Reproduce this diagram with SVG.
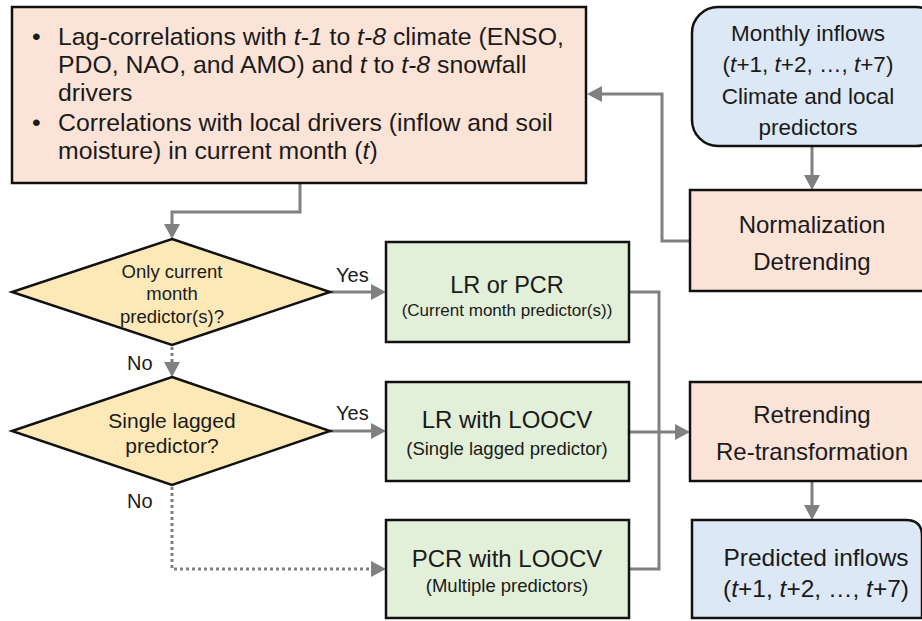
<svg xmlns="http://www.w3.org/2000/svg" width="922" height="621" viewBox="0 0 922 621">
<style>
text{font-family:"Liberation Sans",Arial,Helvetica,sans-serif;fill:#1a1a1a}
.box{stroke:#111;stroke-width:2.5}
.peach{fill:#fbe4d7}
.blue{fill:#dce8f5}
.green{fill:#e2efd9}
.yellow{fill:#fde9b8}
.c{fill:none;stroke:#808080;stroke-width:3}
.d{fill:none;stroke:#808080;stroke-width:3;stroke-dasharray:3 3}
.ah{fill:#808080}
.t24{font-size:24px;text-anchor:middle}
.t22{font-size:22.5px;text-anchor:middle}
.s18{font-size:18.5px;text-anchor:middle}
.lb{font-size:20px}
.tb{font-size:24.8px}
</style>
<g id="connectors">
  <path class="c" d="M690,241 H662 V94 H600"/>
  <polygon class="ah" points="587,94 602,86 602,102"/>
  <path class="c" d="M812,146 V176"/>
  <polygon class="ah" points="812,190 804,175 820,175"/>
  <path class="c" d="M300,183 V212 H172 V226"/>
  <polygon class="ah" points="172,239 164,224 180,224"/>
  <path class="c" d="M330,292 H372"/>
  <polygon class="ah" points="386,292 371,284 371,300"/>
  <path class="d" d="M172,347 V364"/>
  <polygon class="ah" points="172,377 164,362 180,362"/>
  <path class="c" d="M330,431 H372"/>
  <polygon class="ah" points="386,431 371,423 371,439"/>
  <path class="d" d="M172,487 V569 H372"/>
  <polygon class="ah" points="386,569 371,561 371,577"/>
  <path class="c" d="M629,292 H659 V569 H629"/>
  <path class="c" d="M629,432 H676"/>
  <polygon class="ah" points="690,432 675,424 675,440"/>
  <path class="c" d="M812,481 V506"/>
  <polygon class="ah" points="812,520 804,505 820,505"/>
</g>
<g id="drivers">
  <rect class="box peach" x="12" y="7" width="574" height="176"/>
  <text class="tb" x="32" y="45">•</text>
  <text class="tb" x="58" y="45">Lag-correlations with <tspan font-style="italic">t-1</tspan> to <tspan font-style="italic">t-8</tspan> climate (ENSO,</text>
  <text class="tb" x="58" y="73">PDO, NAO, and AMO) and <tspan font-style="italic">t</tspan> to <tspan font-style="italic">t-8</tspan> snowfall</text>
  <text class="tb" x="58" y="101">drivers</text>
  <text class="tb" x="32" y="131">•</text>
  <text class="tb" x="58" y="131">Correlations with local drivers (inflow and soil</text>
  <text class="tb" x="58" y="159">moisture) in current month (<tspan font-style="italic">t</tspan>)</text>
</g>
<g id="monthly-inflows">
  <rect class="box blue" x="692" y="7" width="250" height="139" rx="26"/>
  <text class="t22" x="808" y="41">Monthly inflows</text>
  <text class="t22" x="808" y="72">(<tspan font-style="italic">t</tspan>+1, <tspan font-style="italic">t</tspan>+2, …, <tspan font-style="italic">t</tspan>+7)</text>
  <text class="t22" x="808" y="104">Climate and local</text>
  <text class="t22" x="808" y="135">predictors</text>
</g>
<g id="normalization">
  <rect class="box peach" x="690" y="190" width="250" height="101"/>
  <text class="t24" x="812" y="233">Normalization</text>
  <text class="t24" x="812" y="270">Detrending</text>
</g>
<g id="decision-current">
  <polygon class="box yellow" points="172,239 330,292 172,345 12,292"/>
  <text class="s18" x="172" y="278">Only current</text>
  <text class="s18" x="172" y="300">month</text>
  <text class="s18" x="172" y="323">predictor(s)?</text>
</g>
<g id="decision-lagged">
  <polygon class="box yellow" points="172,377 330,431 172,485 12,431"/>
  <text x="172" y="428" font-size="21" text-anchor="middle">Single lagged</text>
  <text x="172" y="453" font-size="21" text-anchor="middle">predictor?</text>
</g>
<g id="labels">
  <text class="lb" x="336" y="282">Yes</text>
  <text class="lb" x="336" y="420">Yes</text>
  <text class="lb" x="127" y="370">No</text>
  <text class="lb" x="127" y="508">No</text>
</g>
<g id="lr-pcr">
  <rect class="box green" x="386" y="242" width="243" height="100"/>
  <text x="507" y="293" font-size="23.5" text-anchor="middle">LR or PCR</text>
  <text x="507" y="316" font-size="17" text-anchor="middle">(Current month predictor(s))</text>
</g>
<g id="lr-loocv">
  <rect class="box green" x="386" y="382" width="243" height="99"/>
  <text class="t24" x="507" y="428">LR with LOOCV</text>
  <text class="s18" x="507" y="455">(Single lagged predictor)</text>
</g>
<g id="pcr-loocv">
  <rect class="box green" x="386" y="520" width="243" height="98"/>
  <text class="t24" x="507" y="567">PCR with LOOCV</text>
  <text class="s18" x="507" y="592">(Multiple predictors)</text>
</g>
<g id="retrending">
  <rect class="box peach" x="690" y="382" width="250" height="99"/>
  <text class="t24" x="812" y="423">Retrending</text>
  <text class="t24" x="812" y="460">Re-transformation</text>
</g>
<g id="predicted-inflows">
  <path class="box blue" d="M692,520 H906 Q922,520 922,536 V618 H692 Z"/>
  <text x="816" y="566" font-size="24.5" text-anchor="middle">Predicted inflows</text>
  <text x="816" y="597" font-size="24.5" text-anchor="middle">(<tspan font-style="italic">t</tspan>+1, <tspan font-style="italic">t</tspan>+2, …, <tspan font-style="italic">t</tspan>+7)</text>
</g>
</svg>
